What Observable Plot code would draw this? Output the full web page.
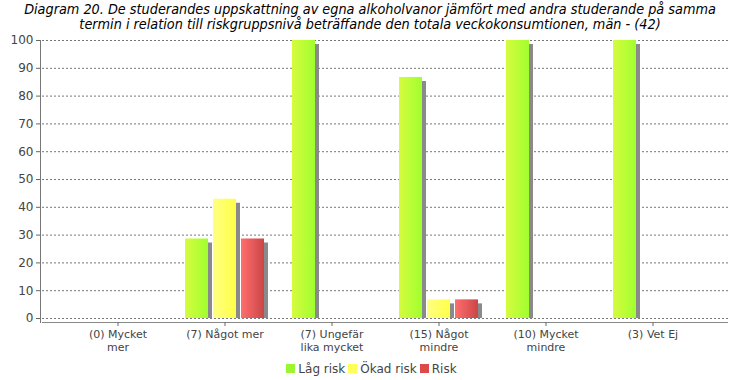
<!DOCTYPE html>
<html><head><meta charset="utf-8">
<script src="https://cdn.jsdelivr.net/npm/d3@7"></script>
<script src="https://cdn.jsdelivr.net/npm/@observablehq/plot@0.6"></script>
<style>
body{margin:0;background:#fff;}
#wrap{position:relative;width:740px;height:380px;overflow:hidden;font-family:"DejaVu Sans",sans-serif;}
#chart{position:absolute;left:0;top:0;}
#title{position:absolute;left:0;top:2px;width:740px;text-align:center;font-family:"DejaVu Sans Condensed","DejaVu Sans",sans-serif;font-style:italic;font-size:14.3px;line-height:15px;color:#000;white-space:nowrap;}
#legend{position:absolute;left:0;top:362px;width:740px;text-align:center;font-size:12px;color:#444;}
.sw{display:inline-block;width:9px;height:9px;margin:0 3px 0 3px;}
</style></head>
<body>
<div id="wrap">
  <div id="chart"></div>
  <div id="title">Diagram 20. De studerandes uppskattning av egna alkoholvanor jämfört med andra studerande på samma<br>termin i relation till riskgruppsnivå beträffande den totala veckokonsumtionen, män - (42)</div>
  <div id="legend"></div>
</div>
<script>
const categories = ["(0) Mycket\nmer", "(7) Något mer", "(7) Ungefär\nlika mycket", "(15) Något\nmindre", "(10) Mycket\nmindre", "(3) Vet Ej"];
const seriesNames = ["Låg risk", "Ökad risk", "Risk"];
const lagRisk = [0, 28.6, 100, 86.7, 100, 100];
const okadRisk = [0, 42.9, 0, 6.7, 0, 0];
const risk = [0, 28.6, 0, 6.7, 0, 0];
const yTicks = [0, 10, 20, 30, 40, 50, 60, 70, 80, 90, 100];

const seriesValues = [lagRisk, okadRisk, risk];
const keyColors = ["#a6ff2e", "#ffff50", "#e04c4c"];
const gradIds = ["gLow", "gMid", "gHigh"];
const legendColors = ["#9cf531", "#ffff5a", "#dd4848"];

const tables = seriesValues.map((vals, s) =>
  categories.map((c, i) => ({category: c, value: vals[i], series: seriesNames[s]})).filter(d => d.value > 0)
);

const step = 28;
const barMarks = [];
tables.forEach((t, s) => {
  const off = (s - 1) * step;
  barMarks.push(Plot.barY(t, {x: "category", y1: 0, y2: "value", dx: off + 4, insetTop: 4, insetLeft: 42, insetRight: 42, fill: "#8a8a8a"}));
});
tables.forEach((t, s) => {
  const off = (s - 1) * step;
  barMarks.push(Plot.barY(t, {x: "category", y1: 0, y2: "value", dx: off, insetLeft: 42, insetRight: 42, fill: keyColors[s]}));
});

const chart = Plot.plot({
  width: 740,
  height: 380,
  marginTop: 40,
  marginBottom: 62,
  marginLeft: 40,
  marginRight: 10,
  style: {fontFamily: "DejaVu Sans, sans-serif", background: "transparent", color: "#444"},
  x: {domain: categories, padding: 0, insetLeft: 24, insetRight: 24, label: null},
  y: {domain: [0, 100], label: null},
  marks: [
    Plot.gridY(yTicks, {stroke: "#777", strokeOpacity: 1, strokeDasharray: "2,2", insetLeft: 2, insetRight: 2}),
    ...barMarks,
    Plot.frame({anchor: "left", stroke: "#777", insetBottom: -4}),
    Plot.ruleY([0], {dy: 4, stroke: "#888", insetLeft: 2, insetRight: 2}),
    Plot.axisY(yTicks, {tickSize: 4, tickPadding: 3, fontSize: 12, stroke: "#666", fill: "#444", label: null}),
    Plot.axisX({tickSize: 4, tickPadding: 2, dy: 4, fontSize: 11, stroke: "#666", fill: "#444", lineHeight: 1.2, label: null})
  ]
});
document.getElementById("chart").appendChild(chart);

// gradients
const svg = d3.select(chart);
const defs = svg.insert("defs", ":first-child");
const stops = [["#d6fb3e", "#a0ff2e"], ["#ffff82", "#ffff48"], ["#ff6e6e", "#cc4646"]];
stops.forEach((st, i) => {
  const g = defs.append("linearGradient").attr("id", gradIds[i]).attr("x1", "0").attr("x2", "1").attr("y1", "0").attr("y2", "0");
  g.append("stop").attr("offset", "0%").attr("stop-color", st[0]);
  g.append("stop").attr("offset", "100%").attr("stop-color", st[1]);
  svg.selectAll(`[fill="${keyColors[i]}"]`).attr("fill", `url(#${gradIds[i]})`);
});

// legend
const leg = d3.select("#legend");
seriesNames.forEach((n, i) => {
  leg.append("span").attr("class", "sw").style("background", legendColors[i]);
  leg.append("span").text(n);
});
</script>
</body></html>
